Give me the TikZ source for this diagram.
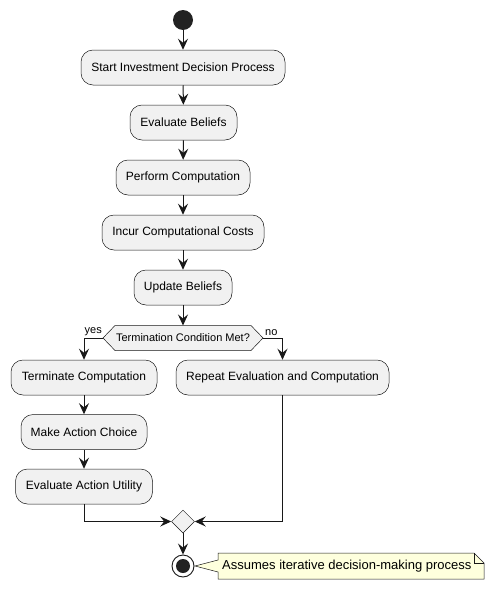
\documentclass[tikz,border=0pt]{standalone}
\usepackage{fontspec}
\setmainfont{Liberation Sans}
\usetikzlibrary{arrows.meta,shapes.geometric}
\definecolor{linec}{HTML}{181818}
\definecolor{boxfill}{HTML}{F1F1F1}
\definecolor{notefill}{HTML}{FEFFDD}
\definecolor{dotc}{HTML}{222222}
\begin{document}
\begin{tikzpicture}[x=1pt,y=-1pt,
  act/.style={draw=linec, fill=boxfill, rounded corners=12pt, line width=0.5pt,
    minimum height=35pt, inner sep=0pt, font=\fontsize{12}{14}\selectfont},
  arr/.style={-{Stealth[length=11pt,width=10pt,inset=4pt]}, line width=1pt, draw=linec},
  lbl/.style={font=\fontsize{11}{13}\selectfont, inner sep=0pt},
  merge/.style={draw=linec, fill=boxfill, line width=0.5pt},
]
\useasboundingbox (0,0) rectangle (495,589);

\node[circle, fill=dotc, minimum size=20pt, inner sep=0pt] (start) at (183,20) {};
\node[act, minimum width=204pt] (b1) at (183,67.5) {Start Investment Decision Process};
\node[act, minimum width=107pt] (b2) at (183.5,122.5) {Evaluate Beliefs};
\node[act, minimum width=134pt] (b3) at (183,177.5) {Perform Computation};
\node[act, minimum width=162pt] (b4) at (183,232.5) {Incur Computational Costs};
\node[act, minimum width=98pt] (b5) at (183,287.5) {Update Beliefs};

% hexagonal decision
\coordinate (cl) at (103,338);
\coordinate (cr) at (263,338);
\coordinate (ctop) at (183,325.5);
\draw[merge] (cl) -- (115,325.5) -- (251,325.5) -- (cr) -- (251,350.5) -- (115,350.5) -- cycle;
\node[lbl] (cond) at (183,338) {Termination Condition Met?};

\node[act, minimum width=146pt] (t1) at (84,377.5) {Terminate Computation};
\node[act, minimum width=213pt] (r1) at (282.5,377.5) {Repeat Evaluation and Computation};
\node[act, minimum width=126pt] (t2) at (84,432) {Make Action Choice};
\node[act, minimum width=137pt] (t3) at (84,486.5) {Evaluate Action Utility};

\node[merge, diamond, shape aspect=1, minimum size=23pt, inner sep=0pt] (m) at (183,521.5) {};

\node[circle, draw=linec, fill=white, line width=0.9pt, minimum size=22pt, inner sep=0pt] (endo) at (183,566) {};
\node[circle, fill=dotc, minimum size=14pt, inner sep=0pt] (endi) at (183,566) {};

% note
\draw[draw=linec, fill=notefill, line width=0.5pt]
  (218,553) -- (474,553) -- (484,563) -- (484,579) -- (218,579) -- (218,572)
  -- (195,566) -- (218,560) -- cycle;
\draw[draw=linec, line width=0.5pt] (474,553) -- (474,563) -- (484,563);
\node[font=\fontsize{13}{15}\selectfont, anchor=west, inner sep=0pt] (note) at (222,566.5) {Assumes iterative decision-making process};

% connectors
\draw[arr] (start) -- (b1);
\draw[arr] (b1) -- (b2);
\draw[arr] (b2) -- (b3);
\draw[arr] (b3) -- (b4);
\draw[arr] (b4) -- (b5);
\draw[arr] (b5.south) -- (ctop);
\draw[arr] (cl) -| (t1.north);
\draw[arr] (cr) -| (r1.north);
\node[lbl, anchor=south east] (yes) at (102,336) {yes};
\node[lbl, anchor=south west] (no) at (265,336) {no};
\draw[arr] (t1) -- (t2);
\draw[arr] (t2) -- (t3);
\draw[arr] (t3.south) |- (m.west);
\draw[arr] (r1.south) |- (m.east);
\draw[arr] (m) -- (endo);
\end{tikzpicture}
\end{document}
